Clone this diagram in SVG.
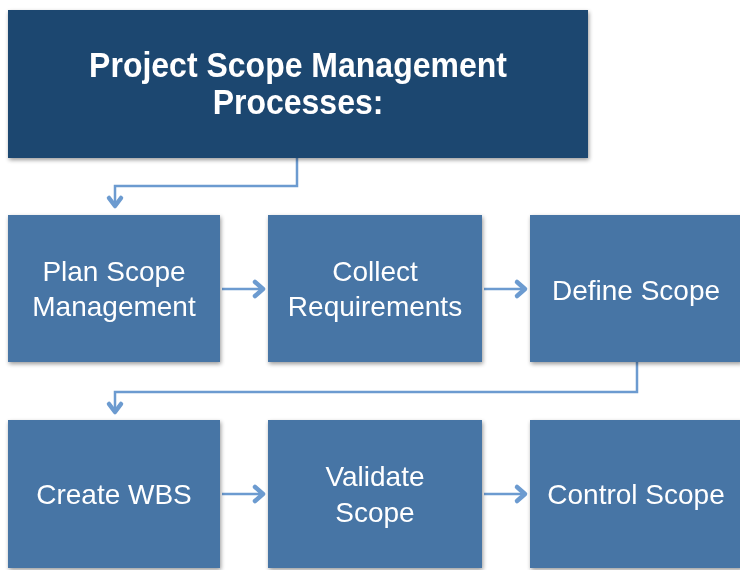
<svg xmlns="http://www.w3.org/2000/svg" width="740" height="570" viewBox="0 0 740 570">
<style>
.title{fill:#1e466f}
.box{fill:#4674a5}
.t{font-family:"Liberation Sans",Arial,sans-serif;fill:#fff;text-anchor:middle}
.tt{font-size:32px;font-weight:bold}
.bt{font-size:28px}
.line{fill:none;stroke:#6c9bd0;stroke-width:2.5}
.head{fill:none;stroke:#6c9bd0;stroke-width:4.5;stroke-linecap:round;stroke-linejoin:round}
</style>
<defs>
<filter id="sh" x="-5%" y="-5%" width="112%" height="115%">
<feGaussianBlur in="SourceAlpha" stdDeviation="2"/>
<feOffset dx="1" dy="2"/>
<feComponentTransfer><feFuncA type="linear" slope="0.4"/></feComponentTransfer>
<feMerge><feMergeNode/><feMergeNode in="SourceGraphic"/></feMerge>
</filter>
</defs>
<rect width="740" height="570" fill="#fff"/>
<g id="connectors">
<path class="line" d="M297,158 V186 H115 V204"/>
<path class="head" d="M109,198 L115,206 L121,198"/>
<path class="line" d="M637,362 V392 H115 V410"/>
<path class="head" d="M109,404 L115,412 L121,404"/>
<path class="line" d="M222,289 H262"/>
<path class="head" d="M255,282 L263,289 L255,296"/>
<path class="line" d="M484,289 H524"/>
<path class="head" d="M517,282 L525,289 L517,296"/>
<path class="line" d="M222,494 H262"/>
<path class="head" d="M255,487 L263,494 L255,501"/>
<path class="line" d="M484,494 H524"/>
<path class="head" d="M517,487 L525,494 L517,501"/>
</g>
<g id="title" filter="url(#sh)">
<rect class="title" x="8" y="10" width="580" height="148"/>
<text class="t tt" transform="translate(298,77) scale(1,1.12)">Project Scope Management</text>
<text class="t tt" transform="translate(298,114) scale(1,1.12)">Processes:</text>
</g>
<g id="plan" filter="url(#sh)">
<rect class="box" x="8" y="215" width="212" height="147"/>
<text class="t bt" x="114" y="281">Plan Scope</text>
<text class="t bt" x="114" y="316">Management</text>
</g>
<g id="collect" filter="url(#sh)">
<rect class="box" x="268" y="215" width="214" height="147"/>
<text class="t bt" x="375" y="281">Collect</text>
<text class="t bt" x="375" y="316">Requirements</text>
</g>
<g id="define" filter="url(#sh)">
<rect class="box" x="530" y="215" width="212" height="147"/>
<text class="t bt" x="636" y="300">Define Scope</text>
</g>
<g id="wbs" filter="url(#sh)">
<rect class="box" x="8" y="420" width="212" height="148"/>
<text class="t bt" x="114" y="504">Create WBS</text>
</g>
<g id="validate" filter="url(#sh)">
<rect class="box" x="268" y="420" width="214" height="148"/>
<text class="t bt" x="375" y="486">Validate</text>
<text class="t bt" x="375" y="522">Scope</text>
</g>
<g id="control" filter="url(#sh)">
<rect class="box" x="530" y="420" width="212" height="148"/>
<text class="t bt" x="636" y="504">Control Scope</text>
</g>
</svg>
